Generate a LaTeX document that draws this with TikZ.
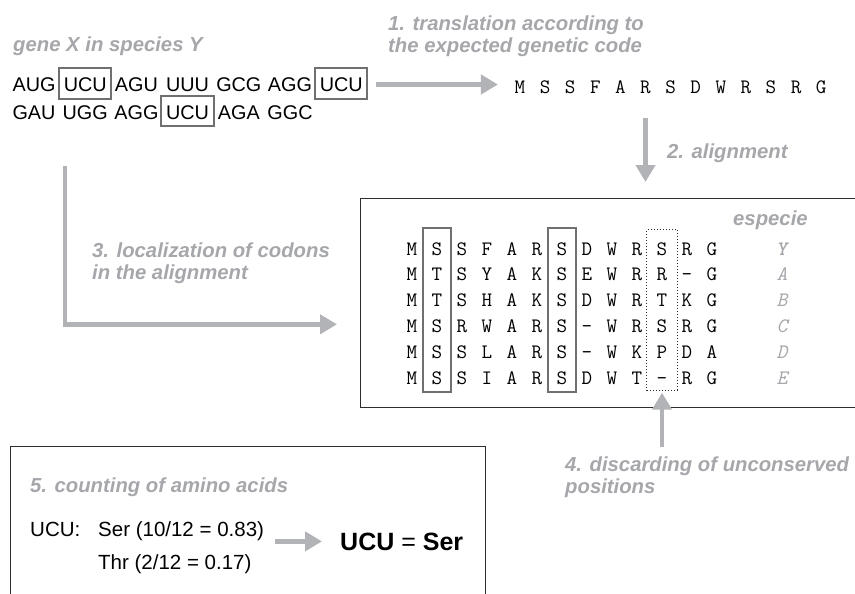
\documentclass[tikz,border=0pt]{standalone}
\usepackage{fontspec}
\setmainfont{Liberation Sans}
\newfontfamily\boldtt{lmmonolt10-boldoblique.otf}
\usetikzlibrary{arrows.meta,fit,calc}

\definecolor{labelgray}{RGB}{166,167,171}
\definecolor{flowgray}{RGB}{178,179,183}
\definecolor{boxgray}{RGB}{112,112,112}
\definecolor{panelline}{RGB}{45,45,45}

\tikzset{
  steplabel/.style={text=labelgray, font=\fontsize{20.3}{22}\selectfont\bfseries\itshape, inner sep=0pt, align=left},
  codon/.style={font=\fontsize{19.8}{22}\selectfont, inner sep=0pt, text height=23pt, text depth=6pt, anchor=base},
  codonbox/.style={draw=boxgray, line width=2pt, inner xsep=4.5pt, inner ysep=0.5pt},
  residue/.style={font=\fontsize{20.5}{24}\selectfont\ttfamily, inner sep=0pt, text height=23pt, text depth=4pt, anchor=base},
  species/.style={residue, text=labelgray, font=\fontsize{20.5}{24}\selectfont\ttfamily\itshape},
  consbox/.style={draw=boxgray, line width=2.5pt, inner xsep=8.6pt, inner ysep=4pt},
  gapbox/.style={draw=panelline, dotted, line width=1pt, inner xsep=9.6pt, inner ysep=2pt},
  panel/.style={draw=panelline, line width=1.3pt, inner sep=0pt, anchor=north west},
  flowarrow/.style={draw=flowgray, line width=4.5pt, -{Triangle[length=17pt,width=19pt]}},
  bodytext/.style={font=\fontsize{20.5}{24}\selectfont, inner sep=0pt, anchor=base west}
}

\begin{document}
\begin{tikzpicture}[x=1pt, y=-1pt]
  \useasboundingbox (0,0) rectangle (855,594);
  \clip (0,0) rectangle (855,594);

  \node[panel, minimum width=520pt, minimum height=209pt] (aln) at (360,198) {};
  \node[panel, minimum width=475pt, minimum height=170pt] (count) at (10,446) {};

  % gene X, codons
  \node[steplabel, anchor=base west] (gene) at (13,52) {gene X in species Y};
  \foreach \cod [count=\i] in {AUG,UCU,AGU,UUU,GCG,AGG,UCU}
    \node[codon] (c-1-\i) at ({34+51.2*(\i-1)},92) {\cod};
  \foreach \cod [count=\i] in {GAU,UGG,AGG,UCU,AGA,GGC}
    \node[codon] (c-2-\i) at ({34+51.2*(\i-1)},119.5) {\cod};
  \foreach \n [count=\k] in {c-1-2,c-2-4,c-1-7}
    \node[codonbox, fit=(\n)] (box\k) {};

  % translated sequence
  \node[steplabel, anchor=north west] (step1) at (388,16) {1. translation according to\\the expected genetic code};
  \foreach \aa [count=\c] in {M,S,S,F,A,R,S,D,W,R,S,R,G}
    \node[residue] (s-\c) at ({520+25.1*(\c-1)},94) {\aa};

  % alignment
  \node[steplabel, anchor=base west] (step2) at (667,158) {2. alignment};
  \node[steplabel, anchor=base west] (especie) at (733,225) {especie};
  \foreach \seq [count=\r] in {{M,S,S,F,A,R,S,D,W,R,S,R,G},{M,T,S,Y,A,K,S,E,W,R,R,-,G},{M,T,S,H,A,K,S,D,W,R,T,K,G},{M,S,R,W,A,R,S,-,W,R,S,R,G},{M,S,S,L,A,R,S,-,W,K,P,D,A},{M,S,S,I,A,R,S,D,W,T,-,R,G}}
    \foreach \aa [count=\c] in \seq
      \node[residue] (a-\r-\c) at ({412+25*(\c-1)},{255+25.8*(\r-1)}) {\aa};
  \foreach \sp [count=\r] in {{\boldtt Y},A,B,C,D,E}
    \node[species] (sp-\r) at (782,{255+25.8*(\r-1)}) {\sp};
  \node[consbox, fit=(a-1-2)(a-6-2)] (cons1) {};
  \node[consbox, fit=(a-1-7)(a-6-7)] (cons2) {};
  \node[gapbox, fit=(a-1-11)(a-6-11)] (gap) {};

  \node[steplabel, anchor=north west] (step3) at (92,243) {3. localization of codons\\in the alignment};
  \node[steplabel, anchor=north west] (step4) at (565,457) {4. discarding of unconserved\\positions};

  % counting
  \node[steplabel, anchor=base west] (step5) at (30,492) {5. counting of amino acids};
  \node[bodytext] (ucu) at (30,536) {UCU:};
  \node[bodytext] (ser) at (98,536) {Ser (10/12 = 0.83)};
  \node[bodytext] (thr) at (98,569) {Thr (2/12 = 0.17)};
  \node[bodytext, font=\fontsize{25}{28}\selectfont] (result) at (340,550) {\textbf{UCU} = \textbf{Ser}};

  \draw[flowarrow, shorten <=8pt, shorten >=16.6pt] (box3.east |- s-1.west) -- (s-1.west);
  \draw[flowarrow, shorten <=20pt, shorten >=16pt] (s-6.south) -- (s-6.south |- aln.north);
  \draw[flowarrow, shorten <=40.5pt, shorten >=23pt] ($(c-2-1.south)+(31,0)$) |- ($(aln.south west)+(0,-84)$);
  \draw[flowarrow, shorten <=10pt, shorten >=2pt] (step4.north -| gap.south) -- (gap.south);
  \draw[flowarrow, shorten <=11pt, shorten >=18pt] (ser.east |- result.west) -- (result.west);
\end{tikzpicture}
\end{document}
